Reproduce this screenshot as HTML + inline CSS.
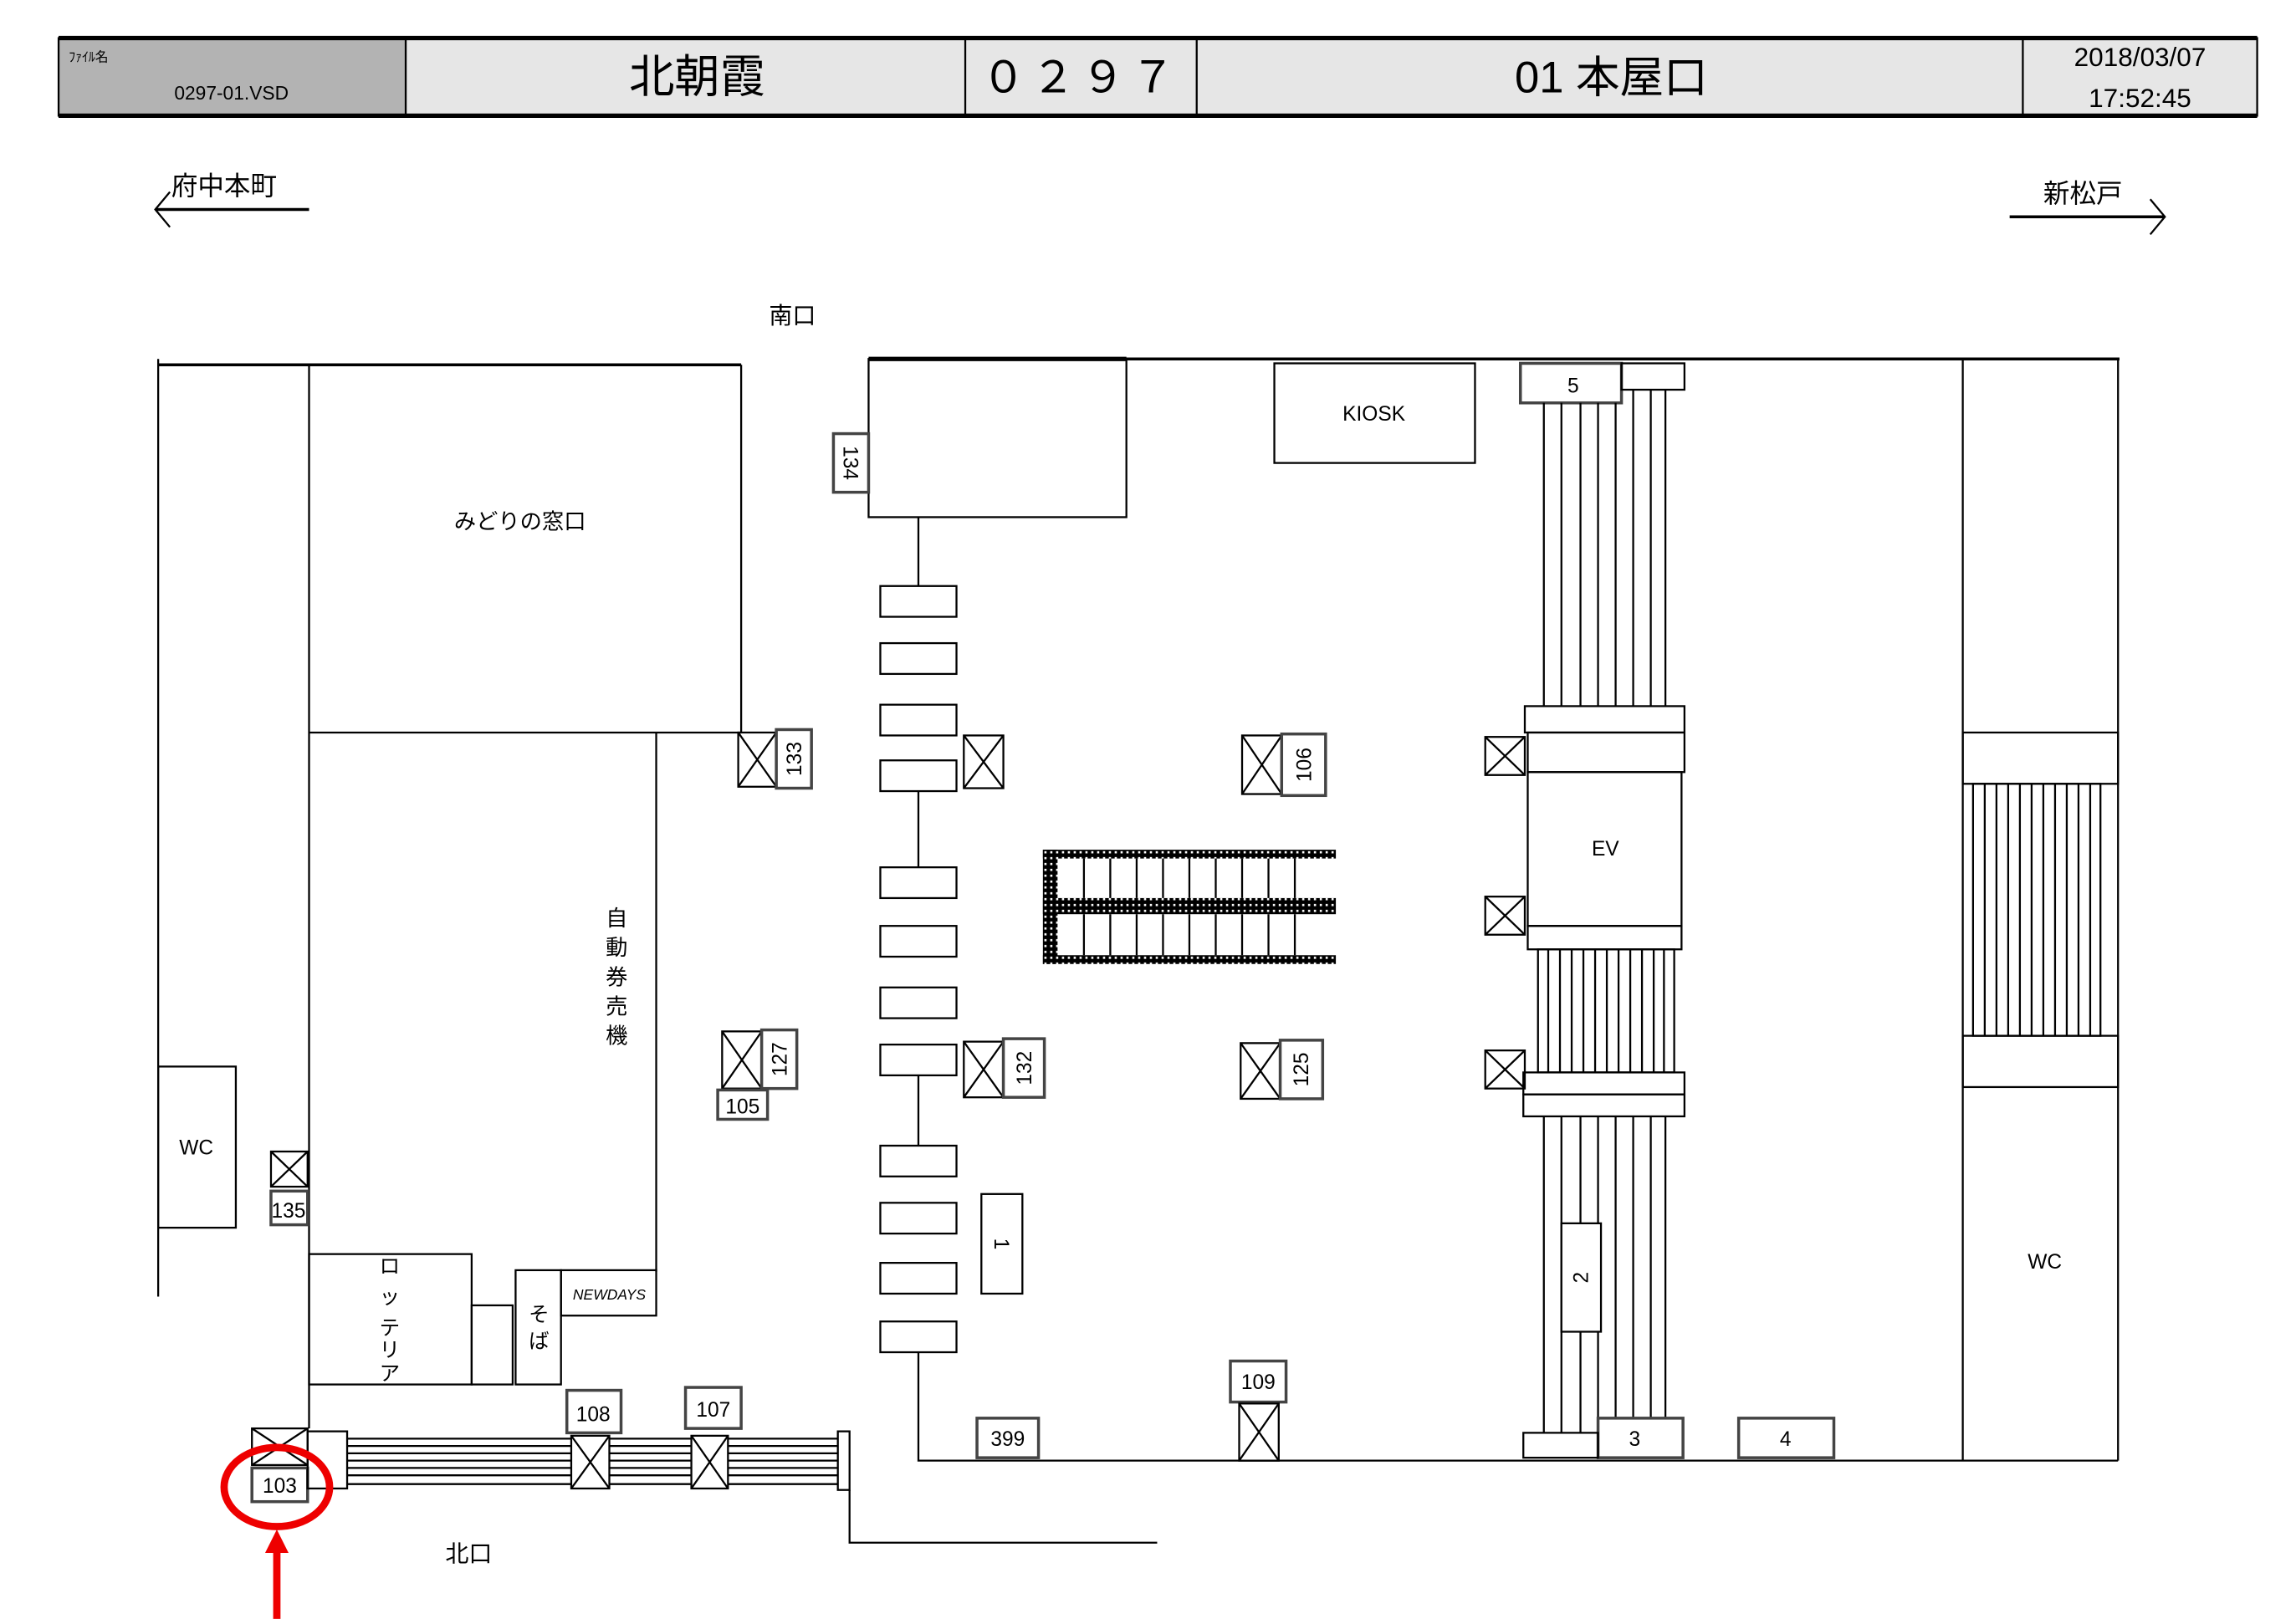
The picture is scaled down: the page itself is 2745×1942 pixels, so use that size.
<!DOCTYPE html>
<html><head><meta charset="utf-8"><style>
html,body{margin:0;padding:0;background:#fff;}
svg{display:block;}
text{font-family:"Liberation Sans","Noto Sans CJK JP",sans-serif;fill:#000;}
</style></head><body>
<svg width="2745" height="1942" viewBox="0 0 1567.5 1108.5" preserveAspectRatio="none" xmlns="http://www.w3.org/2000/svg">
<defs>
<pattern id="dots" width="4" height="4" patternUnits="userSpaceOnUse"><rect width="4" height="4" fill="#000"/><rect x="1" y="1" width="1.5" height="1.5" fill="#fff"/></pattern>
</defs>
<g fill="none" stroke="#000" stroke-width="1.3">
<rect x="40" y="26" width="237" height="53" fill="#b3b3b3"/>
<rect x="277" y="26" width="1264" height="53" fill="#e6e6e6"/>
<line x1="40" y1="26" x2="1541" y2="26" stroke-width="3"/>
<line x1="40" y1="79" x2="1541" y2="79" stroke-width="3"/>
<line x1="659" y1="26" x2="659" y2="79"/><line x1="817" y1="26" x2="817" y2="79"/><line x1="1381" y1="26" x2="1381" y2="79"/>
<line x1="106" y1="143" x2="211" y2="143" stroke-width="2"/><polyline points="116,131 106,143 116,155"/>
<line x1="1372" y1="148" x2="1478" y2="148" stroke-width="2"/><polyline points="1468,136 1478,148 1468,160"/>
<line x1="108" y1="245" x2="108" y2="885"/>
<line x1="108" y1="249" x2="506" y2="249" stroke-width="2"/>
<line x1="211" y1="249" x2="211" y2="975"/>
<line x1="506" y1="249" x2="506" y2="500"/>
<line x1="211" y1="500" x2="506" y2="500"/>
<line x1="448" y1="500" x2="448" y2="868"/>
<rect x="108" y="728" width="53" height="110"/>
<rect x="185" y="786" width="25" height="24"/><path d="M185 786L210 810M210 786L185 810"/>
<rect x="185" y="813" width="25" height="23" stroke-width="2" stroke="#444"/>
<rect x="211" y="856" width="111" height="89"/>
<rect x="322" y="891" width="28" height="54"/>
<rect x="352" y="867" width="31" height="78"/>
<rect x="383" y="867" width="65" height="31"/>
<rect x="172" y="975" width="38" height="25"/><path d="M172 975L210 1000M210 975L172 1000"/>
<rect x="172" y="1002" width="38" height="23" stroke-width="2" stroke="#444"/>
<rect x="210" y="977" width="27" height="39"/>
<path d="M237 982H572M237 987H572M237 992H572M237 997H572M237 1002H572M237 1007H572M237 1013H572"/>
<rect x="572" y="977" width="8" height="40"/>
<rect x="390" y="980" width="26" height="36" fill="#fff"/><path d="M390 980L416 1016M416 980L390 1016"/>
<rect x="387" y="949" width="37" height="29" stroke-width="2" stroke="#444"/>
<rect x="472" y="980" width="25" height="36" fill="#fff"/><path d="M472 980L497 1016M497 980L472 1016"/>
<rect x="468" y="947" width="38" height="28" stroke-width="2" stroke="#444"/>
<polyline points="580,1017 580,1053 790,1053"/>
<rect x="504" y="500" width="26" height="37"/><path d="M504 500L530 537M530 500L504 537"/>
<rect x="530" y="498" width="24" height="40" stroke-width="2" stroke="#444"/>
<rect x="493" y="704" width="27" height="39"/><path d="M493 704L520 743M520 704L493 743"/>
<rect x="520" y="703" width="24" height="40" stroke-width="2" stroke="#444"/>
<rect x="490" y="744" width="34" height="20" stroke-width="2" stroke="#444"/>
<line x1="593" y1="245" x2="1447" y2="245" stroke-width="2"/>
<rect x="593" y="245" width="176" height="108"/>
<line x1="593" y1="245" x2="769" y2="245" stroke-width="3"/>
<rect x="569" y="296" width="24" height="40" stroke-width="2" stroke="#444"/>
<line x1="627" y1="353" x2="627" y2="400"/>
<rect x="601" y="400" width="52" height="21"/><rect x="601" y="439" width="52" height="21"/><rect x="601" y="481" width="52" height="21"/><rect x="601" y="519" width="52" height="21"/>
<line x1="627" y1="540" x2="627" y2="592"/>
<rect x="601" y="592" width="52" height="21"/><rect x="601" y="632" width="52" height="21"/><rect x="601" y="674" width="52" height="21"/><rect x="601" y="713" width="52" height="21"/>
<line x1="627" y1="734" x2="627" y2="782"/>
<rect x="601" y="782" width="52" height="21"/><rect x="601" y="821" width="52" height="21"/><rect x="601" y="862" width="52" height="21"/><rect x="601" y="902" width="52" height="21"/>
<polyline points="627,923 627,997 1446,997"/>
<rect x="658" y="502" width="27" height="36"/><path d="M658 502L685 538M685 502L658 538"/>
<rect x="658" y="711" width="27" height="38"/><path d="M658 711L685 749M685 711L658 749"/>
<rect x="685" y="709" width="28" height="40" stroke-width="2" stroke="#444"/>
<rect x="670" y="815" width="28" height="68"/>
<rect x="667" y="968" width="42" height="27" stroke-width="2" stroke="#444"/>
<rect x="848" y="502" width="27" height="40"/><path d="M848 502L875 542M875 502L848 542"/>
<rect x="875" y="501" width="30" height="42" stroke-width="2" stroke="#444"/>
<rect x="847" y="712" width="27" height="38"/><path d="M847 712L874 750M874 712L847 750"/>
<rect x="874" y="710" width="29" height="40" stroke-width="2" stroke="#444"/>
<rect x="840" y="929" width="38" height="28" stroke-width="2" stroke="#444"/>
<rect x="846" y="958" width="27" height="39"/><path d="M846 958L873 997M873 958L846 997"/>
<rect x="712" y="580" width="200" height="6" fill="url(#dots)" stroke="none"/>
<rect x="712" y="613" width="200" height="11" fill="url(#dots)" stroke="none"/>
<rect x="712" y="652" width="200" height="6" fill="url(#dots)" stroke="none"/>
<rect x="712" y="580" width="10" height="78" fill="url(#dots)" stroke="none"/>
<path d="M740 586V613M758 586V613M776 586V613M794 586V613M812 586V613M830 586V613M848 586V613M866 586V613M884 586V613M740 624V652M758 624V652M776 624V652M794 624V652M812 624V652M830 624V652M848 624V652M866 624V652M884 624V652"/>
<rect x="870" y="248" width="137" height="68"/>
<rect x="1038" y="248" width="69" height="27" stroke-width="2" stroke="#444"/>
<rect x="1107" y="248" width="43" height="18"/>
<path d="M1054 275V482M1066 275V482M1079 275V482M1091 275V482M1103 275V482M1115 266V482M1127 266V482M1137 266V482"/>
<rect x="1041" y="482" width="109" height="18"/>
<rect x="1043" y="500" width="107" height="27"/>
<rect x="1043" y="527" width="105" height="105"/>
<rect x="1043" y="632" width="105" height="16"/>
<rect x="1050" y="648" width="93" height="84"/>
<path d="M1057 648V732M1065 648V732M1073 648V732M1081 648V732M1089 648V732M1097 648V732M1105 648V732M1113 648V732M1121 648V732M1129 648V732M1136 648V732"/>
<rect x="1040" y="732" width="110" height="15"/>
<rect x="1040" y="747" width="110" height="15"/>
<path d="M1054 762V978M1066 762V978M1079 762V978M1091 762V968M1103 762V968M1115 762V968M1127 762V968M1137 762V968"/>
<rect x="1066" y="835" width="27" height="74" fill="#fff"/>
<rect x="1091" y="968" width="58" height="27" stroke-width="2" stroke="#444"/>
<rect x="1040" y="978" width="51" height="17"/>
<rect x="1187" y="968" width="65" height="27" stroke-width="2" stroke="#444"/>
<rect x="1014" y="503" width="27" height="26"/><path d="M1014 503L1041 529M1041 503L1014 529"/>
<rect x="1014" y="612" width="27" height="26"/><path d="M1014 612L1041 638M1041 612L1014 638"/>
<rect x="1014" y="717" width="27" height="26"/><path d="M1014 717L1041 743M1041 717L1014 743"/>
<line x1="1340" y1="245" x2="1340" y2="997"/>
<line x1="1446" y1="245" x2="1446" y2="997"/>
<rect x="1340" y="500" width="106" height="35"/>
<rect x="1347" y="535" width="87" height="172"/>
<path d="M1355 535V707M1363 535V707M1371 535V707M1379 535V707M1387 535V707M1395 535V707M1403 535V707M1411 535V707M1419 535V707M1427 535V707"/>
<rect x="1340" y="707" width="106" height="35"/>
<ellipse cx="189" cy="1015" rx="36" ry="27" stroke="#e00" stroke-width="5"/>
<line x1="189" y1="1105" x2="189" y2="1060" stroke="#e00" stroke-width="5"/>
</g>
<polygon points="189,1044 181,1060 197,1060" fill="#e00"/>
<text x="47" y="42" font-size="9">ﾌｧｲﾙ名</text>
<text x="158" y="68" font-size="13" text-anchor="middle">0297-01.VSD</text>
<text x="476" y="63" font-size="31" text-anchor="middle">北朝霞</text>
<text x="738" y="63" font-size="30" text-anchor="middle" letter-spacing="4">０２９７</text>
<text x="1100" y="63" font-size="30" text-anchor="middle">01  本屋口</text>
<text x="1461" y="45" font-size="18" text-anchor="middle">2018/03/07</text>
<text x="1461" y="73" font-size="18" text-anchor="middle">17:52:45</text>
<text x="153" y="133" font-size="18" text-anchor="middle">府中本町</text>
<text x="1422" y="138" font-size="18" text-anchor="middle">新松戸</text>
<text x="541" y="221" font-size="16" text-anchor="middle">南口</text>
<text x="320" y="1066" font-size="16" text-anchor="middle">北口</text>
<text x="355" y="361" font-size="15" text-anchor="middle">みどりの窓口</text>
<g font-size="15" text-anchor="middle"><text x="421" y="632">自</text><text x="421" y="652">動</text><text x="421" y="672">券</text><text x="421" y="692">売</text><text x="421" y="712">機</text></g>
<g font-size="14" text-anchor="middle"><text x="266" y="869">ロ</text><text x="266" y="890">ッ</text><text x="266" y="911">テ</text><text x="266" y="926">リ</text><text x="266" y="942">ア</text></g>
<g font-size="14" text-anchor="middle"><text x="368" y="902">そ</text><text x="368" y="920">ば</text></g>
<text x="416" y="887" font-size="10" font-style="italic" text-anchor="middle">NEWDAYS</text>
<g font-size="14" text-anchor="middle">
<text x="134" y="788">WC</text>
<text x="1396" y="866">WC</text>
<text x="197" y="831">135</text>
<text x="191" y="1019">103</text>
<text x="405" y="970">108</text>
<text x="487" y="967">107</text>
<text x="507" y="760">105</text>
<text x="688" y="987">399</text>
<text x="859" y="948">109</text>
<text x="938" y="287">KIOSK</text>
<text x="1096" y="584">EV</text>
<text x="1074" y="268">5</text>
<text x="1116" y="987">3</text>
<text x="1219" y="987">4</text>
</g>
<g font-size="14" text-anchor="middle">
<text transform="translate(581,316) rotate(90)" dy="5">134</text>
<text transform="translate(542,518) rotate(-90)" dy="5">133</text>
<text transform="translate(532,723) rotate(-90)" dy="5">127</text>
<text transform="translate(699,729) rotate(-90)" dy="5">132</text>
<text transform="translate(890,522) rotate(-90)" dy="5">106</text>
<text transform="translate(888,730) rotate(-90)" dy="5">125</text>
<text transform="translate(684,849) rotate(90)" dy="5">1</text>
<text transform="translate(1079,872) rotate(-90)" dy="5">2</text>
</g>
</svg>
</body></html>
